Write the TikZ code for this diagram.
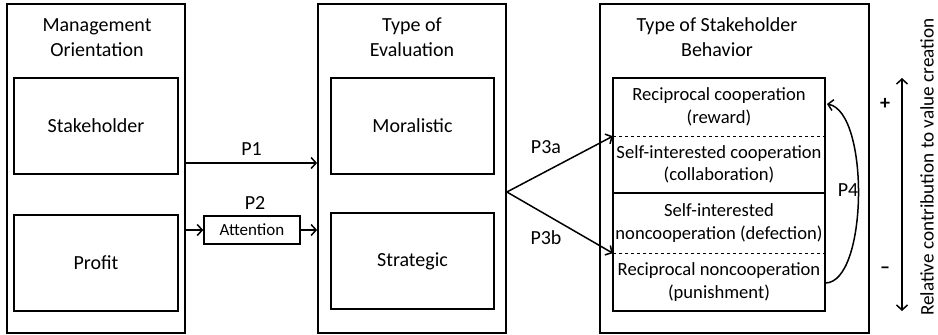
\documentclass[tikz,border=0pt]{standalone}
\usepackage{fontspec}
\setmainfont{Carlito}
\usetikzlibrary{arrows.meta}
\begin{document}
\begin{tikzpicture}[x=1pt,y=-1pt,
  outer/.style={draw,line width=1.8pt,inner sep=0pt},
  inner/.style={draw,line width=1.8pt,inner sep=0pt,minimum width=163pt,minimum height=96pt,font=\fontsize{20}{24}\selectfont},
  title/.style={align=center,font=\fontsize{20}{25}\selectfont},
  beh/.style={align=center,inner sep=0pt,minimum width=212pt,font=\fontsize{18.6}{22.5}\selectfont},
  arr/.style={line width=1.5pt,-{Straight Barb[length=5pt,width=11pt,line width=1.5pt]}},
  lab/.style={font=\fontsize{20}{22}\selectfont}
]
\useasboundingbox (0,0) rectangle (938,335);
% left column
\node[outer,minimum width=178pt,minimum height=329pt] (mo) at (96,168.5) {};
\node[title] (motitle) at (97,37.5) {Management\\Orientation};
\node[inner,minimum width=164pt] (stake) at (96,126) {Stakeholder};
\node[inner,minimum width=164pt] (profit) at (96,263) {Profit};
% middle column
\node[outer,minimum width=188pt,minimum height=329pt] (te) at (412,168.5) {};
\node[title] (tetitle) at (412,37.5) {Type of\\Evaluation};
\node[inner] (moral) at (412.5,126) {Moralistic};
\node[inner] (strat) at (412.5,261) {Strategic};
% right column
\node[outer,minimum width=269pt,minimum height=329pt] (tb) at (734.5,168.5) {};
\node[title] (tbtitle) at (717,37.5) {Type of Stakeholder\\Behavior};
\node[beh,minimum height=58pt] (r1) at (719,107) {Reciprocal cooperation\\(reward)};
\node[beh,minimum height=57pt] (r2) at (719,164.5) {Self-interested cooperation\\(collaboration)};
\node[beh,minimum height=60pt] (r3) at (719,223) {Self-interested\\noncooperation (defection)};
\node[beh,minimum height=58pt] (r4) at (719,282) {Reciprocal noncooperation\\(punishment)};
\draw[line width=1.8pt] (r1.north west) rectangle (r2.south east);
\draw[line width=1.8pt] (r3.north west) rectangle (r4.south east);
\draw[dashed,line width=0.7pt] (r1.south west) -- (r1.south east);
\draw[dashed,line width=0.7pt] (r3.south west) -- (r3.south east);
% P1
\coordinate (p1s) at (mo.east |- 0,163);
\coordinate (p1e) at (te.west |- 0,163);
\draw[arr] (p1s) -- node[lab,above=3pt] (p1) {P1} (p1e);
% P2
\node[draw,line width=1.5pt,minimum width=96pt,minimum height=28pt,inner sep=0pt,font=\fontsize{17}{19}\selectfont] (att) at (252,230) {Attention};
\node[lab] (p2) at (255,203) {P2};
\draw[arr] (mo.east |- att.west) -- (att.west);
\draw[arr] (att.east) -- (te.west |- att.east);
% P3
\coordinate (p3o) at (te.east |- 0,192);
\draw[arr] (p3o) -- (r1.south west);
\draw[arr] (p3o) -- (r3.south west);
\node[lab] (p3a) at (546,147) {P3a};
\node[lab] (p3b) at (546,238) {P3b};
% P4
\coordinate (p4s) at (r4.east |- 0,283);
\coordinate (p4e) at (827,104);
\draw[arr] (p4s) .. controls (868,283) and (870,112) .. (p4e);
\node[lab] (p4) at (848,190) {P4};
% value axis
\node[font=\fontsize{20}{22}\bfseries] (plus) at (885,104) {+};
\node[font=\fontsize{20}{22}\bfseries] (minus) at (885,270) {--};
\coordinate (vtop) at (902,78);
\coordinate (vbot) at (902,311);
\draw[line width=1.5pt,{Straight Barb[length=5pt,width=11pt,line width=1.5pt]}-{Straight Barb[length=5pt,width=11pt,line width=1.5pt]}] (vtop) -- (vbot);
\node[rotate=90,font=\fontsize{19.2}{21}\selectfont,inner sep=0pt] (vlab) at (927,167) {Relative contribution to value creation};
\end{tikzpicture}
\end{document}
